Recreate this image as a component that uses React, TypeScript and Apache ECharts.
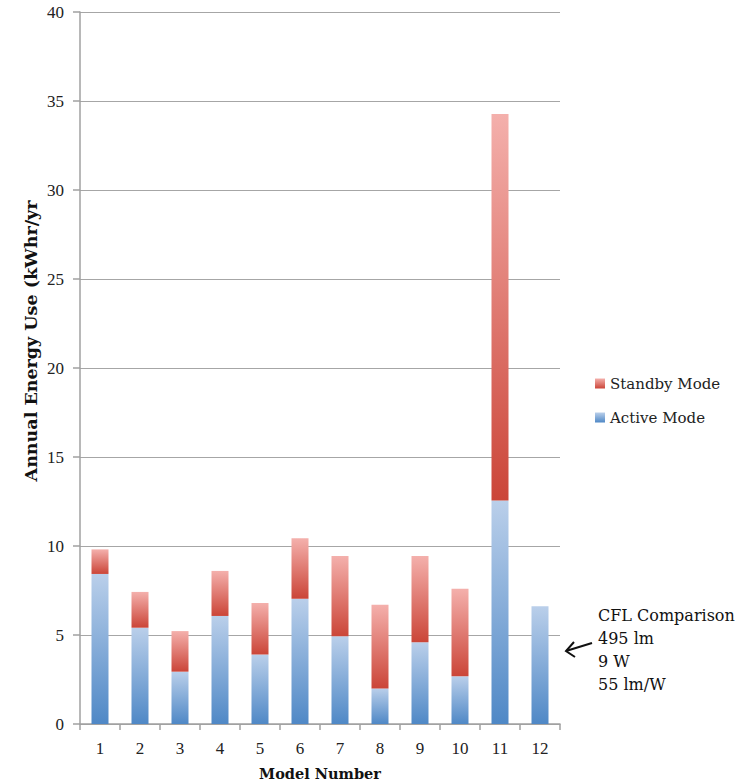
import React, { useEffect, useRef } from "react";
import * as echarts from "echarts";

const categories = ["1", "2", "3", "4", "5", "6", "7", "8", "9", "10", "11", "12"];
const activeMode = [8.43, 5.41, 2.94, 6.07, 3.9, 7.04, 4.93, 2.0, 4.59, 2.68, 12.55, 6.61];
const standbyMode = [1.38, 2.01, 2.28, 2.53, 2.9, 3.39, 4.51, 4.7, 4.85, 4.92, 21.72, 0];
const annotationLines = ["CFL Comparison", "495 lm", "9 W", "55 lm/W"];

const FONT = "'Liberation Serif', 'DejaVu Serif', serif";
const WIDE = "'DejaVu Serif', serif";

export default function App() {
  const ref = useRef<HTMLDivElement>(null);
  useEffect(() => {
    if (!ref.current) return;
    const chart = echarts.init(ref.current, null, { renderer: "svg" });
    const activeGrad = new echarts.graphic.LinearGradient(0, 0, 0, 1, [
      { offset: 0, color: "#bacfea" },
      { offset: 1, color: "#4f88c6" },
    ]);
    const standbyGrad = new echarts.graphic.LinearGradient(0, 0, 0, 1, [
      { offset: 0, color: "#f4b0ac" },
      { offset: 1, color: "#cb4538" },
    ]);
    chart.setOption({
      animation: false,
      grid: { left: 80, right: 179, top: 12, bottom: 58, containLabel: false },
      legend: {
        orient: "vertical",
        left: 590,
        top: 371,
        itemWidth: 10,
        itemHeight: 10,
        itemGap: 19,
        icon: "rect",
        data: ["Standby Mode", "Active Mode"],
        textStyle: { fontFamily: WIDE, fontSize: 15, color: "#222" },
      },
      xAxis: {
        type: "category",
        data: categories,
        axisLine: { lineStyle: { color: "#a0a0a0", width: 1.5 } },
        axisTick: { show: true, alignWithLabel: false, length: 6, lineStyle: { color: "#a0a0a0", width: 1.5 } },
        axisLabel: { fontFamily: FONT, fontSize: 17, color: "#222", margin: 16 },
      },
      yAxis: {
        type: "value",
        min: 0,
        max: 40,
        interval: 5,
        axisLine: { show: true, lineStyle: { color: "#a0a0a0", width: 1.5 } },
        axisTick: { show: true, length: 7, lineStyle: { color: "#a0a0a0", width: 1.5 } },
        splitLine: { lineStyle: { color: "#a6a6a6", width: 1.2 } },
        axisLabel: { fontFamily: FONT, fontSize: 17, color: "#222", margin: 16 },
      },
      series: [
        {
          name: "Active Mode",
          type: "bar",
          stack: "total",
          barWidth: 17,
          data: activeMode,
          itemStyle: { color: activeGrad },
        },
        {
          name: "Standby Mode",
          type: "bar",
          stack: "total",
          barWidth: 17,
          data: standbyMode,
          itemStyle: { color: standbyGrad },
        },
      ],
      graphic: [
        {
          type: "text",
          x: 31,
          y: 341,
          rotation: Math.PI / 2,
          style: {
            text: "Annual Energy Use (kWhr/yr",
            fontFamily: WIDE,
            fontSize: 17.5,
            fontWeight: "bold",
            fill: "#111",
            textAlign: "center",
            textVerticalAlign: "middle",
          },
        },
        {
          type: "text",
          x: 320,
          y: 773,
          style: {
            text: "Model Number",
            fontFamily: WIDE,
            fontSize: 14.5,
            fontWeight: "bold",
            fill: "#111",
            textAlign: "center",
            textVerticalAlign: "middle",
          },
        },
        ...annotationLines.map((t, i) => ({
          type: "text",
          x: 598,
          y: 615 + i * 23.3,
          style: {
            text: t,
            fontFamily: WIDE,
            fontSize: 16,
            fill: "#111",
            textAlign: "left",
            textVerticalAlign: "middle",
          },
        })),
        {
          type: "line",
          shape: { x1: 566, y1: 651, x2: 592, y2: 643 },
          style: { stroke: "#111", lineWidth: 2 },
        },
        {
          type: "polyline",
          shape: { points: [[574, 642], [566, 651], [575, 657]] },
          style: { stroke: "#111", lineWidth: 2, fill: "none" },
        },
      ],
    });
    return () => chart.dispose();
  }, []);
  return <div ref={ref} style={{ width: 739, height: 782, position: "absolute", left: 0, top: 0 }} />;
}
